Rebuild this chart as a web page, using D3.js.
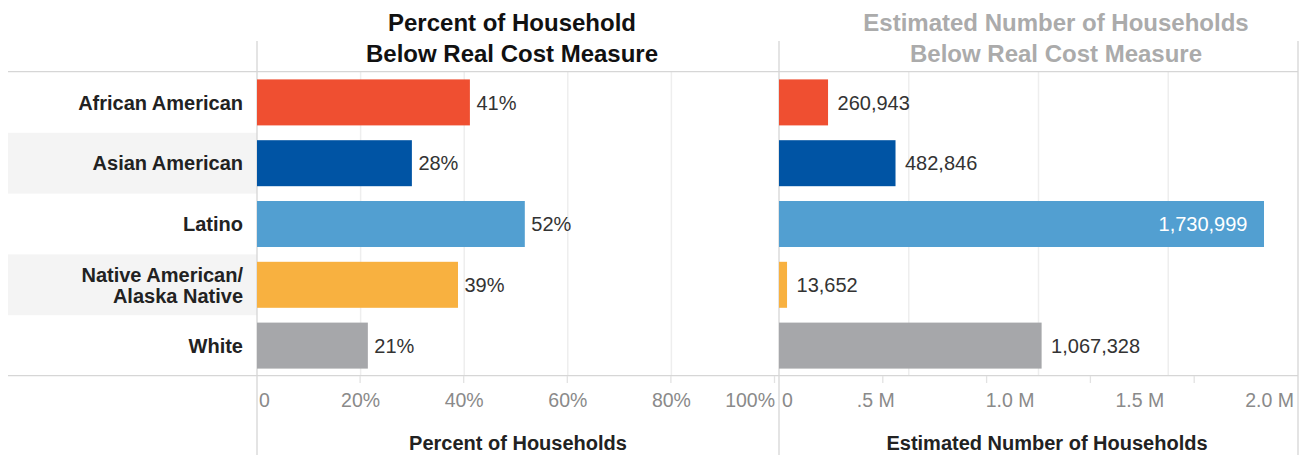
<!DOCTYPE html>
<html>
<head>
<meta charset="utf-8">
<script src="https://cdn.jsdelivr.net/npm/d3@7"></script>
<style>
  html, body { margin: 0; padding: 0; background: #fff; }
  svg { display: block; font-family: "Liberation Sans", Arial, sans-serif; }
</style>
</head>
<body>
<svg id="chart" width="1304" height="455"></svg>
<script>
// ---- data ----
const categories = ["African American", "Asian American", "Latino", "Native American/ Alaska Native", "White"];
const percentBelow = [41.1, 29.9, 51.7, 38.8, 21.4];          // bar lengths
const percentLabels = ["41%", "28%", "52%", "39%", "21%"];      // printed labels
const householdsBelow = [260943, 482846, 1730999, 13652, 1067328]; // printed labels
const householdBars = [189000, 449000, 1869000, 31000, 1012000];   // bar lengths
const barColors = ["#EF4F31", "#0054A4", "#529FD1", "#F8B140", "#A6A7AA"];
const pctTicks = [0, 20, 40, 60, 80, 100];
const pctTickLabels = ["0", "20%", "40%", "60%", "80%", "100%"];
const hhTicks = [0, 500000, 1000000, 1500000, 2000000];
const hhTickLabels = ["0", ".5 M", "1.0 M", "1.5 M", "2.0 M"];
const hhMinorTicks = [400000, 800000, 1200000, 1600000];
const leftTitle = ["Percent of Household", "Below Real Cost Measure"];
const rightTitle = ["Estimated Number of Households", "Below Real Cost Measure"];
const leftAxisTitle = "Percent of Households";
const rightAxisTitle = "Estimated Number of Households";

// ---- layout ----
const svg = d3.select("#chart");
const yTop = 72, yBottom = 376;
const y = d3.scaleBand().domain(categories).range([yTop, yBottom]).paddingInner(0);
const barH = 46;
const xP = d3.scaleLinear().domain([0, 100]).range([257, 775]);
const xH = d3.scaleLinear().domain([0, 2000000]).range([779, 1298]);
const fmt = d3.format(",");

// row banding in label column
svg.append("g").selectAll("rect")
  .data(categories.filter((d, i) => i % 2 === 1))
  .join("rect")
  .attr("x", 8).attr("width", 257 - 8)
  .attr("y", d => y(d)).attr("height", y.bandwidth())
  .attr("fill", "#f4f4f4");

// gridlines
const grid = svg.append("g").attr("stroke", "#eeeeee").attr("stroke-width", 1.5);
grid.selectAll("line.gp").data([20, 40, 60, 80]).join("line")
  .attr("x1", d => xP(d)).attr("x2", d => xP(d)).attr("y1", yTop).attr("y2", yBottom);
grid.selectAll("line.gh").data([500000, 1000000, 1500000]).join("line")
  .attr("x1", d => xH(d)).attr("x2", d => xH(d)).attr("y1", yTop).attr("y2", yBottom);

// horizontal header/footer lines
svg.append("g").attr("stroke", "#d6d6d6").attr("stroke-width", 1.3)
  .selectAll("line").data([yTop - 0.3, yBottom - 0.3]).join("line")
  .attr("x1", 8).attr("x2", 1298).attr("y1", d => d).attr("y2", d => d);

// vertical pane borders
svg.append("g").attr("stroke", "#d6d6d6").attr("stroke-width", 1.3)
  .selectAll("line").data([xP(0), xH(0), xH(2000000)]).join("line")
  .attr("x1", d => d).attr("x2", d => d).attr("y1", 41).attr("y2", 455);

// axis ticks (short marks below the footer line)
const tickG = svg.append("g").attr("stroke", "#e2e2e2").attr("stroke-width", 1.3);
tickG.selectAll("line.tp").data(pctTicks.slice(1)).join("line")
  .attr("x1", d => xP(d) - 0.5).attr("x2", d => xP(d) - 0.5).attr("y1", yBottom).attr("y2", yBottom + 7);
tickG.selectAll("line.th").data(hhMinorTicks).join("line")
  .attr("x1", d => xH(d)).attr("x2", d => xH(d)).attr("y1", yBottom).attr("y2", yBottom + 7);

// tick labels
const tickFont = 19.5;
svg.append("g").selectAll("text").data(pctTicks).join("text")
  .attr("x", (d, i) => i === 0 ? xP(d) + 2 : xP(d))
  .attr("y", 406.5)
  .attr("text-anchor", (d, i) => i === 0 ? "start" : (i === pctTicks.length - 1 ? "end" : "middle"))
  .attr("font-size", tickFont).attr("fill", "#8a8a8a")
  .text((d, i) => pctTickLabels[i]);
svg.append("g").selectAll("text").data(hhTicks).join("text")
  .attr("x", (d, i) => i === 0 ? xH(d) + 3 : (i === 1 ? xH(d) - 14 : xH(d) - 4))
  .attr("y", 406.5)
  .attr("text-anchor", (d, i) => i === 0 ? "start" : "end")
  .attr("font-size", tickFont).attr("fill", "#8a8a8a")
  .text((d, i) => hhTickLabels[i]);

// axis titles
svg.append("text").attr("x", (xP(0) + xP(100)) / 2 + 2).attr("y", 450)
  .attr("text-anchor", "middle").attr("font-size", 20).attr("font-weight", "bold").attr("fill", "#222")
  .text(leftAxisTitle);
svg.append("text").attr("x", 1047).attr("y", 450)
  .attr("text-anchor", "middle").attr("font-size", 20).attr("font-weight", "bold").attr("fill", "#222")
  .text(rightAxisTitle);

// pane titles
const lt = svg.append("text").attr("text-anchor", "middle").attr("font-size", 24)
  .attr("font-weight", "bold").attr("fill", "#111");
leftTitle.forEach((t, i) => lt.append("tspan").attr("x", 512).attr("y", 31 + i * 31).text(t));
const rt = svg.append("text").attr("text-anchor", "middle").attr("font-size", 24)
  .attr("font-weight", "bold").attr("fill", "#ababab");
rightTitle.forEach((t, i) => rt.append("tspan").attr("x", 1056).attr("y", 31 + i * 31).text(t));

// row labels
const lineGap = 21;
svg.append("g").selectAll("text").data(categories).join("text")
  .attr("text-anchor", "end").attr("font-size", 20).attr("font-weight", "bold").attr("fill", "#222")
  .each(function (d) {
    const parts = d.includes("/ ") ? [d.split("/ ")[0] + "/", d.split("/ ")[1]] : [d];
    const cy = y(d) + y.bandwidth() / 2;
    const base = cy + 7.2 - (parts.length - 1) * lineGap / 2;
    parts.forEach((p, i) => d3.select(this).append("tspan")
      .attr("x", 243).attr("y", base + i * lineGap).text(p));
  });

// left bars
svg.append("g").selectAll("rect").data(categories).join("rect")
  .attr("x", xP(0)).attr("y", d => y(d) + (y.bandwidth() - barH) / 2)
  .attr("width", (d, i) => xP(percentBelow[i]) - xP(0)).attr("height", barH)
  .attr("fill", (d, i) => barColors[i]);
svg.append("g").selectAll("text").data(categories).join("text")
  .attr("x", (d, i) => xP(percentBelow[i]) + 6.5)
  .attr("y", d => y(d) + y.bandwidth() / 2 + 7.2)
  .attr("font-size", 20).attr("fill", "#333")
  .text((d, i) => percentLabels[i]);

// right bars
svg.append("g").selectAll("rect").data(categories).join("rect")
  .attr("x", xH(0)).attr("y", d => y(d) + (y.bandwidth() - barH) / 2)
  .attr("width", (d, i) => xH(householdBars[i]) - xH(0)).attr("height", barH)
  .attr("fill", (d, i) => barColors[i]);
svg.append("g").selectAll("text").data(categories).join("text")
  .each(function (d, i) {
    const end = xH(householdBars[i]);
    const inside = householdBars[i] > 1500000;
    d3.select(this)
      .attr("x", inside ? end - 16.5 : end + 9.5)
      .attr("text-anchor", inside ? "end" : "start")
      .attr("fill", inside ? "#ffffff" : "#333");
  })
  .attr("y", d => y(d) + y.bandwidth() / 2 + 7.2)
  .attr("font-size", 20)
  .text((d, i) => fmt(householdsBelow[i]));
</script>
</body>
</html>
